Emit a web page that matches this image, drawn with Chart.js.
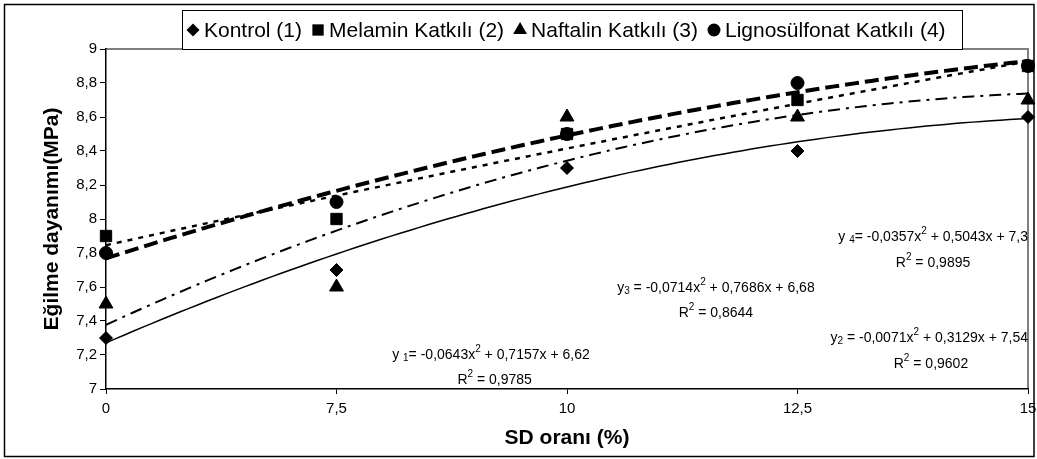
<!DOCTYPE html>
<html>
<head>
<meta charset="utf-8">
<script src="https://cdn.jsdelivr.net/npm/chart.js"></script>
<style>
  html, body { margin: 0; padding: 0; background: #fff; }
  #wrap { width: 1037px; height: 459px; }
</style>
</head>
<body>
<div id="wrap"><canvas id="c" width="1037" height="459"></canvas></div>
<script>
// Categories (SD oranı, %) and measured flexural strength values (MPa)
const categories = ['0', '7,5', '10', '12,5', '15'];
const seriesNames = ['Kontrol (1)', 'Melamin Katkılı (2)', 'Naftalin Katkılı (3)', 'Lignosülfonat Katkılı (4)'];
const kontrol = [7.3, 7.7, 8.3, 8.4, 8.6];
const melamin = [7.9, 8.0, 8.5, 8.7, 8.9];
const naftalin = [7.5, 7.6, 8.6, 8.6, 8.7];
const lignosulfonat = [7.8, 8.1, 8.5, 8.8, 8.9];

// Polynomial trendlines y = a x^2 + b x + c (x = category index 1..5)
const trendA = [-0.0643, -0.0071, -0.0714, -0.0357];
const trendB = [0.7157, 0.3129, 0.7686, 0.5043];
const trendC = [6.62, 7.54, 6.68, 7.3];
const trendR2 = [0.9785, 0.9602, 0.8644, 0.9895];

// Y axis tick labels
const yTickLabels = ['7', '7,2', '7,4', '7,6', '7,8', '8', '8,2', '8,4', '8,6', '8,8', '9'];

const FONT = '"Liberation Sans", Arial, sans-serif';
const markerStyles = ['rectRot', 'rect', 'triangle', 'circle'];
const markerRadius = [6.5, 8, 8, 6.5];
const trendDash = [[], [5, 6], [12, 6, 3, 6], [14, 6]];
const trendWidth = [1.5, 2.5, 2, 4];
const values = [kontrol, melamin, naftalin, lignosulfonat];

function comma(v) { return String(v).replace('.', ','); }

// Trendline curves evaluated from the stated coefficients
function trendPoints(i) {
  const pts = [];
  for (let k = 0; k <= 100; k++) {
    const x = 1 + k * 0.04;
    pts.push({ x: x, y: trendA[i] * x * x + trendB[i] * x + trendC[i] });
  }
  return pts;
}

const datasets = [];
values.forEach((vals, i) => {
  datasets.push({
    label: seriesNames[i],
    data: vals.map((v, j) => ({ x: j + 1, y: v })),
    showLine: false,
    pointStyle: markerStyles[i],
    pointRadius: markerRadius[i],
    pointHoverRadius: markerRadius[i],
    pointBackgroundColor: '#000',
    pointBorderColor: '#000',
    pointBorderWidth: 1,
    clip: false
  });
});
values.forEach((vals, i) => {
  datasets.push({
    label: 'trend' + (i + 1),
    data: trendPoints(i),
    borderColor: '#000',
    borderWidth: trendWidth[i],
    borderDash: trendDash[i],
    pointRadius: 0,
    tension: 0,
    fill: false,
    clip: false
  });
});

// Equation labels: anchor in data coordinates, align
const eqLabels = [
  { i: 0, x: 2.67, y: 7.2, ry: 7.053, rx: 2.686, align: 'center', sub: 'y 1= ' },
  { i: 1, x: 5.0, y: 7.3, ry: 7.147, rx: 4.579, align: 'right', sub: 'y2 = ' },
  { i: 2, x: 3.646, y: 7.594, ry: 7.447, rx: 3.646, align: 'center', sub: 'y3 = ' },
  { i: 3, x: 5.0, y: 7.894, ry: 7.741, rx: 4.588, align: 'right', sub: 'y 4= ' }
];

function richSegments(l) {
  const i = l.i;
  const num = l.sub.match(/\d/)[0];
  const pre = l.sub.slice(0, l.sub.indexOf(num));
  const post = l.sub.slice(l.sub.indexOf(num) + 1);
  return [
    [pre, 'n'], [num, 'sub'], [post + comma(trendA[i]) + 'x', 'n'], ['2', 'sup'],
    [' + ' + comma(trendB[i]) + 'x + ' + comma(trendC[i]), 'n']
  ];
}

function drawRich(ctx, segs, x, y, align, size) {
  const fontFor = t => (t === 'n' ? size : Math.round(size * 0.72)) + 'px ' + FONT;
  let w = 0;
  segs.forEach(s => { ctx.font = fontFor(s[1]); w += ctx.measureText(s[0]).width; });
  let cx = align === 'right' ? x - w : align === 'center' ? x - w / 2 : x;
  ctx.textBaseline = 'middle';
  ctx.textAlign = 'left';
  segs.forEach(s => {
    ctx.font = fontFor(s[1]);
    const dy = s[1] === 'sub' ? size * 0.22 : s[1] === 'sup' ? -size * 0.38 : 0;
    ctx.fillText(s[0], cx, y + dy);
    cx += ctx.measureText(s[0]).width;
  });
}

function drawMarker(ctx, style, r, x, y) {
  ctx.beginPath();
  if (style === 'rectRot') {
    ctx.moveTo(x, y - r); ctx.lineTo(x + r, y); ctx.lineTo(x, y + r); ctx.lineTo(x - r, y);
  } else if (style === 'rect') {
    const s = r * Math.SQRT1_2;
    ctx.rect(x - s, y - s, 2 * s, 2 * s);
  } else if (style === 'triangle') {
    ctx.moveTo(x, y - r);
    ctx.lineTo(x + r * Math.sqrt(3) / 2, y + r / 2);
    ctx.lineTo(x - r * Math.sqrt(3) / 2, y + r / 2);
  } else {
    ctx.arc(x, y, r, 0, Math.PI * 2);
  }
  ctx.closePath();
  ctx.fill();
}

const decorations = {
  id: 'decorations',
  beforeDraw(chart) {
    const ctx = chart.ctx;
    const a = chart.chartArea;
    ctx.save();
    ctx.fillStyle = '#fff';
    ctx.fillRect(0, 0, chart.width, chart.height);
    // outer frame
    ctx.strokeStyle = '#000';
    ctx.lineWidth = 1.5;
    ctx.strokeRect(4.5, 4.5, 1029.5, 452);
    // plot area border (top and right)
    ctx.strokeStyle = '#808080';
    ctx.lineWidth = 2;
    ctx.beginPath();
    ctx.moveTo(a.left, a.top);
    ctx.lineTo(a.right, a.top);
    ctx.lineTo(a.right, a.bottom);
    ctx.stroke();
    ctx.restore();
  },
  afterDraw(chart) {
    const ctx = chart.ctx;
    const xs = chart.scales.x, ys = chart.scales.y;
    ctx.save();
    ctx.fillStyle = '#000';
    // trendline equations and R² values
    eqLabels.forEach(l => {
      drawRich(ctx, richSegments(l), xs.getPixelForValue(l.x), ys.getPixelForValue(l.y), l.align, 14);
      drawRich(ctx, [['R', 'n'], ['2', 'sup'], [' = ' + comma(trendR2[l.i]), 'n']],
        xs.getPixelForValue(l.rx), ys.getPixelForValue(l.ry), 'center', 14);
    });
    // legend box
    const box = { l: 182, t: 10, r: 962, b: 49 };
    ctx.fillStyle = '#fff';
    ctx.fillRect(box.l, box.t, box.r - box.l, box.b - box.t);
    ctx.strokeStyle = '#000';
    ctx.lineWidth = 1;
    ctx.strokeRect(box.l + 0.5, box.t + 0.5, box.r - box.l, box.b - box.t);
    ctx.fillStyle = '#000';
    ctx.font = '21px ' + FONT;
    ctx.textBaseline = 'middle';
    ctx.textAlign = 'left';
    let cx = 193;
    const cy = 30;
    seriesNames.forEach((name, i) => {
      drawMarker(ctx, markerStyles[i], markerRadius[i], cx, cy);
      const tx = cx + 11;
      ctx.fillText(name, tx, cy + 1);
      cx = tx + ctx.measureText(name).width + 16;
    });
    ctx.restore();
  }
};

new Chart(document.getElementById('c'), {
  type: 'line',
  data: { datasets: datasets },
  plugins: [decorations],
  options: {
    responsive: false,
    animation: false,
    layout: { padding: { left: 40, top: 49, right: 0, bottom: 0 } },
    plugins: { legend: { display: false }, tooltip: { enabled: false } },
    scales: {
      x: {
        type: 'linear',
        min: 1, max: 5,
        afterFit: s => { s.height = 70; s.paddingRight = 9; s.paddingLeft = 0; },
        afterBuildTicks: s => { s.ticks = categories.map((c, j) => ({ value: j + 1 })); },
        ticks: {
          callback: (v) => categories[Math.round(v) - 1],
          color: '#000',
          font: { family: FONT, size: 15 },
          padding: 6,
          maxRotation: 0,
          autoSkip: false
        },
        grid: { drawOnChartArea: false, drawTicks: true, tickLength: 5, tickColor: '#000', tickWidth: 1 },
        border: { color: '#000', width: 1.5 },
        title: {
          display: true, text: 'SD oranı (%)', color: '#000',
          font: { family: FONT, size: 21, weight: 'bold' },
          padding: { top: 0, bottom: 8 }
        }
      },
      y: {
        min: 7, max: 9,
        afterFit: s => { s.width = 66; s.paddingTop = 0; s.paddingBottom = 0; },
        afterBuildTicks: s => { s.ticks = yTickLabels.map((t, j) => ({ value: 7 + j * 0.2 })); },
        ticks: {
          callback: (v, idx) => yTickLabels[idx],
          color: '#000',
          font: { family: FONT, size: 15 },
          padding: 3
        },
        grid: { drawOnChartArea: false, drawTicks: true, tickLength: 6, tickColor: '#000', tickWidth: 1 },
        border: { color: '#000', width: 1.5 },
        title: {
          display: true, text: 'Eğilme dayanımı(MPa)', color: '#000',
          font: { family: FONT, size: 21, weight: 'bold' },
          padding: { top: 0, bottom: 0 }
        }
      }
    }
  }
});
</script>
</body>
</html>
